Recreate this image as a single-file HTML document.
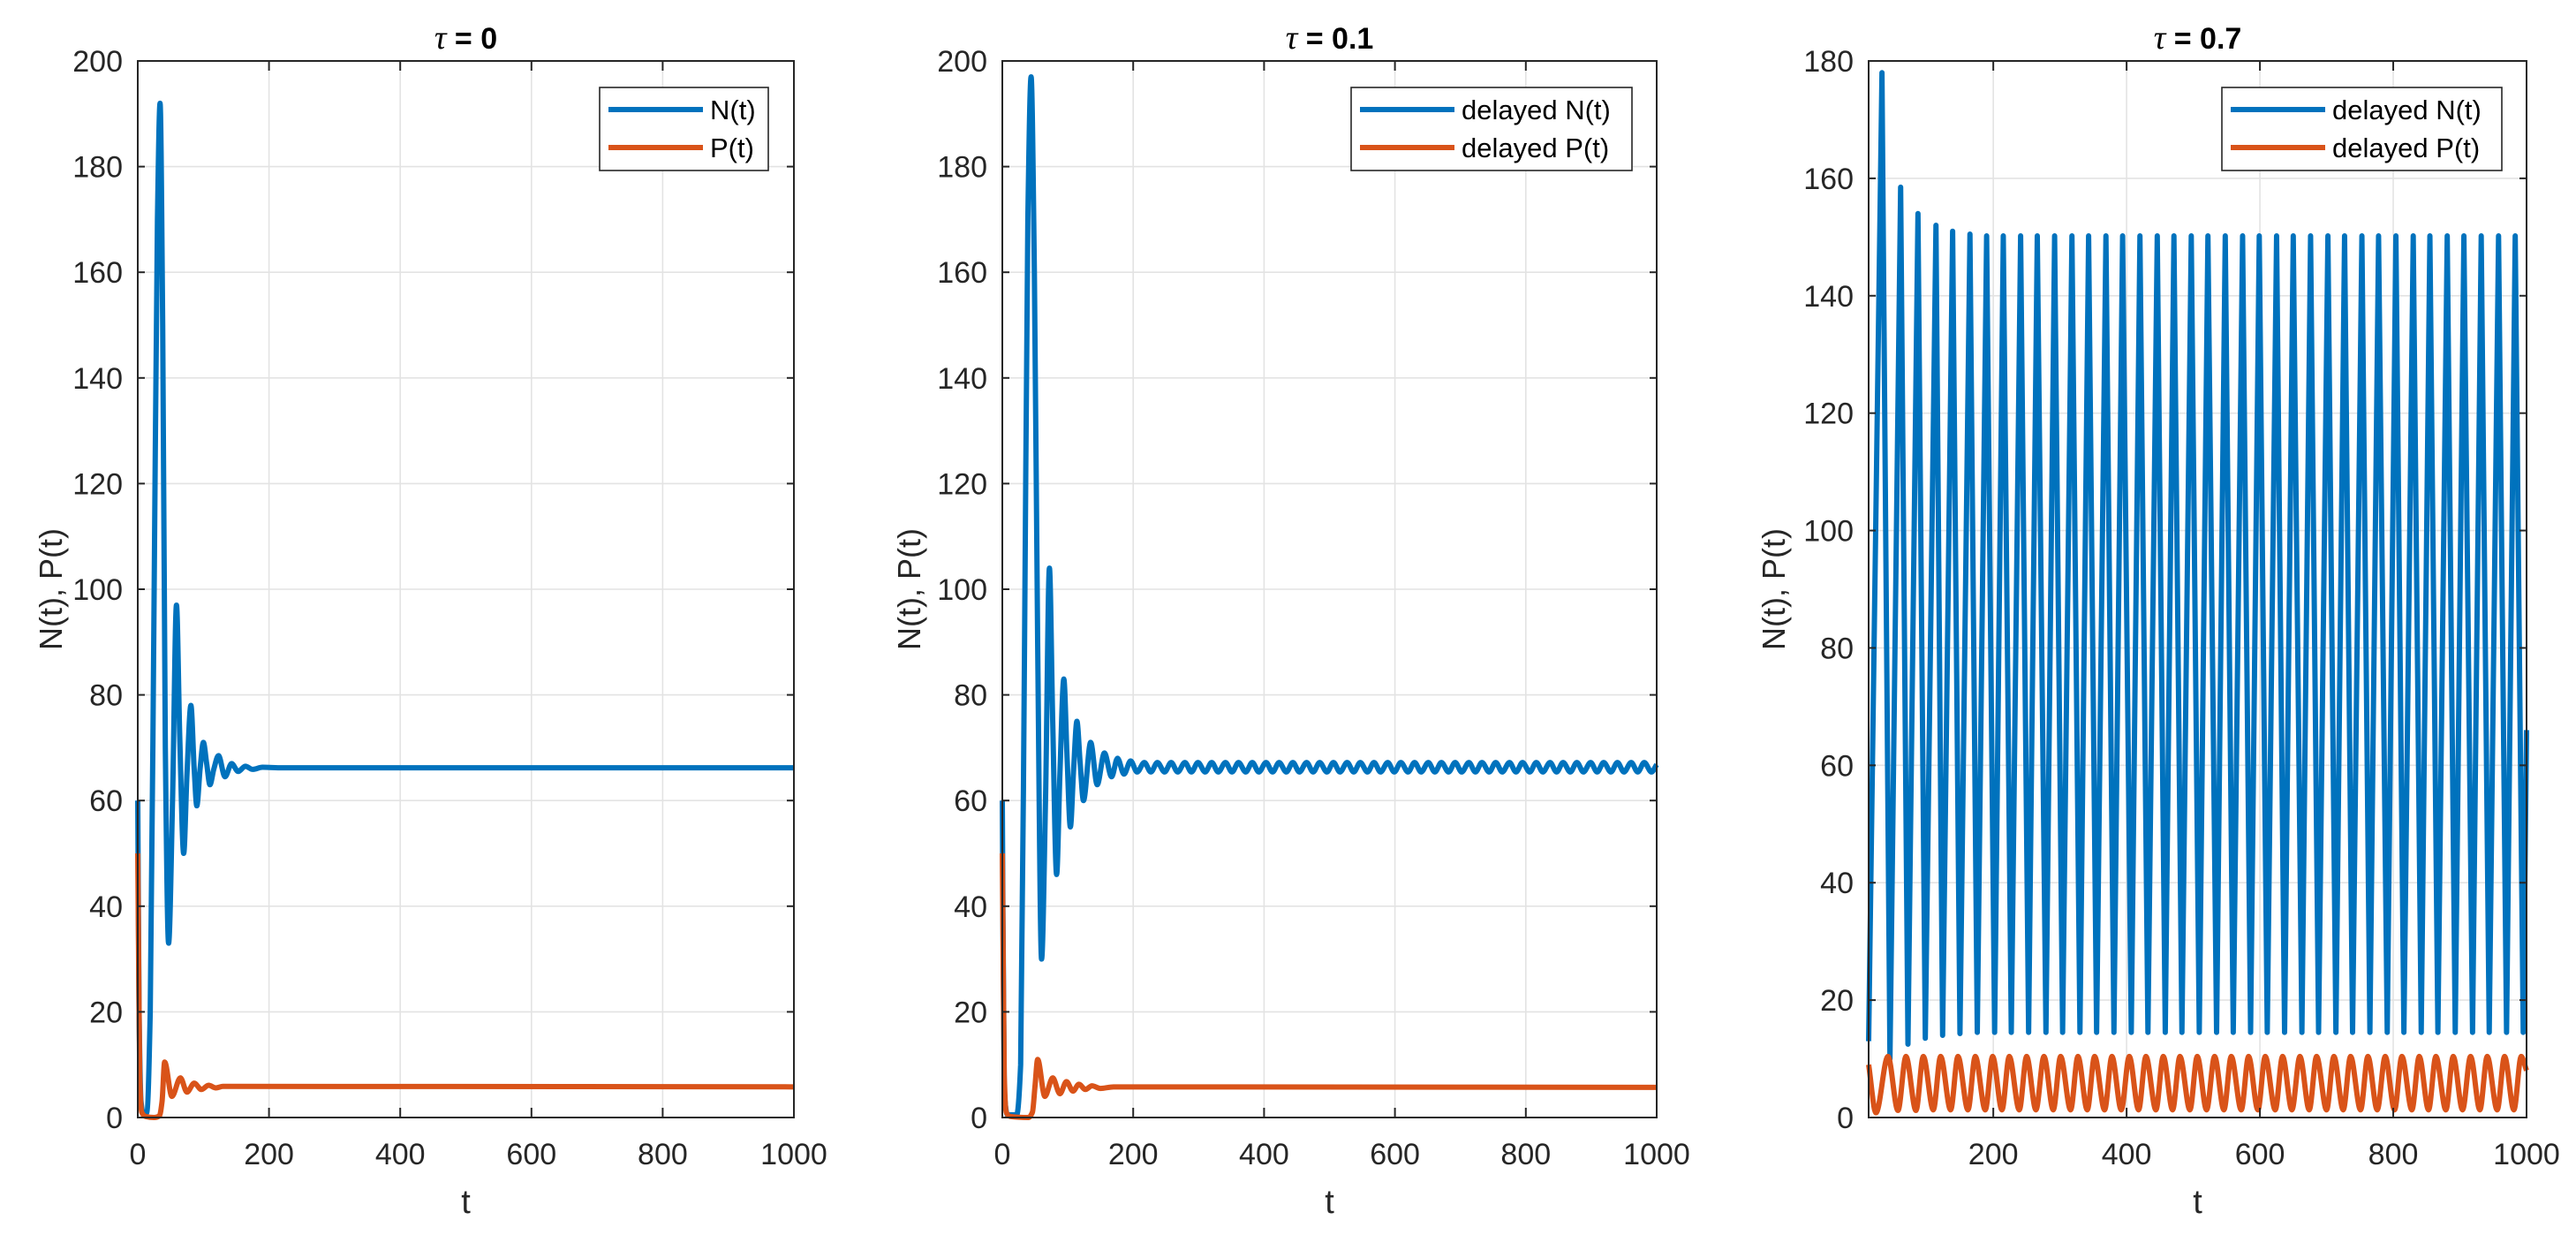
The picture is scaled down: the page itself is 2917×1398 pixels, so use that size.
<!DOCTYPE html>
<html><head><meta charset="utf-8"><style>
html,body{margin:0;padding:0;background:#fff;}
svg{display:block;font-family:"Liberation Sans",Arial,sans-serif;}
</style></head><body>
<svg id="fig" width="2917" height="1398" viewBox="0 0 2917 1398" xmlns="http://www.w3.org/2000/svg"></svg>
<script>
// ---------- data ----------
const xTicks = [0, 200, 400, 600, 800, 1000];
const xTicks3 = [200, 400, 600, 800, 1000];
const yTicks12 = [0, 20, 40, 60, 80, 100, 120, 140, 160, 180, 200];
const yTicks3 = [0, 20, 40, 60, 80, 100, 120, 140, 160, 180];
const titles = ["0", "0.1", "0.7"];
const legend1 = ["N(t)", "P(t)"];
const legend23 = ["delayed N(t)", "delayed P(t)"];

// Panel 1 (tau = 0)
const tN1 = [0,2,5,9,14,19,25,30,34,38,42,47,53,59,64,70,75,81,86,90,95,100,105,110,116,123,133,143,153,164,175,190,220,1000];
const vN1 = [60,20,3,0.5,1,20,100,170,192,150,70,33,60,97,72,50,65,78,66,59,66,71,67,63,66,68.5,64.5,67,65.5,66.5,65.9,66.3,66.2,66.2];
const tP1 = [0,1,3,6,12,25,33,37,41,52,65,75,86,97,108,119,130,1000];
const vP1 = [50,35,8,1,0.2,0,0.3,3,10.5,4,7.5,4.8,6.5,5.3,6.1,5.6,5.9,5.8];

// Panel 2 (tau = 0.1)
const tN2 = [0,3,8,22,28,34,39,44,49,54,60,66,72,77,83,88,94,99,104,109,114,119,124,135,145,156,167,176,186,196,
 206,217,227,237,248,258,268,279,289,299,310,320,330,341,351,361,372,382,392,403,413,423,434,444,454,465,475,485,496,506,516,527,537,547,558,568,578,589,599,609,620,630,640,651,661,671,682,692,702,713,723,733,744,754,764,775,785,795,806,816,826,837,847,857,868,878,888,899,909,919,930,940,950,961,971,981,992,1000];
const vN2 = [60,5,0.5,0.5,10,90,170,197,160,90,30,60,104,75,46,65,83,68,55,66,75,67,60,71,63,69,64.5,68,65,67.5,
 65.4,67.2,65.4,67.2,65.4,67.2,65.4,67.2,65.4,67.2,65.4,67.2,65.4,67.2,65.4,67.2,65.4,67.2,65.4,67.2,65.4,67.2,65.4,67.2,65.4,67.2,65.4,67.2,65.4,67.2,65.4,67.2,65.4,67.2,65.4,67.2,65.4,67.2,65.4,67.2,65.4,67.2,65.4,67.2,65.4,67.2,65.4,67.2,65.4,67.2,65.4,67.2,65.4,67.2,65.4,67.2,65.4,67.2,65.4,67.2,65.4,67.2,65.4,67.2,65.4,67.2,65.4,67.2,65.4,67.2,65.4,67.2,65.4,67.2,65.4,67.2,65.4,66.8];
const tP2 = [0,1,3,6,12,40,46,50,54,65,77,88,98,108,117,127,137,150,170,1000];
const vP2 = [50,35,8,1,0.2,0,1,6,11,4,7.5,4.5,6.8,5,6.3,5.3,6,5.5,5.8,5.7];

// Panel 3 (tau = 0.7)
const tN3 = [13,33,45,61,72,87,98,114,124,139,150,165,176,
 190,202,215,227,241,253,266,279,
 292,304,318,330,343,355,369,381,
 394,407,420,432,446,458,471,483,
 497,509,522,535,548,560,574,586,
 599,611,625,637,650,663,676,688,
 702,714,727,739,753,765,778,791,
 804,816,830,842,855,867,881,893,
 906,919,932,944,958,970,983,995,
 1000];
const vN3 = [13,178,10,158.5,12.5,154,13.5,152,14,151,14.3,150.5,14.5,
 150.2,14.5,150.2,14.5,150.2,14.5,150.2,14.5,
 150.2,14.5,150.2,14.5,150.2,14.5,150.2,14.5,
 150.2,14.5,150.2,14.5,150.2,14.5,150.2,14.5,
 150.2,14.5,150.2,14.5,150.2,14.5,150.2,14.5,
 150.2,14.5,150.2,14.5,150.2,14.5,150.2,14.5,
 150.2,14.5,150.2,14.5,150.2,14.5,150.2,14.5,
 150.2,14.5,150.2,14.5,150.2,14.5,150.2,14.5,
 150.2,14.5,150.2,14.5,150.2,14.5,150.2,14.5,
 66];
const tP3 = [13,24,42,57,69,84,95,110,121,136,147,162,173,
 188,199,213,224,239,250,264,276,
 290,301,316,327,341,352,367,378,
 392,404,418,429,444,455,469,480,
 495,506,520,532,546,557,572,583,
 597,608,623,634,648,660,674,685,
 700,711,725,736,751,762,776,788,
 802,813,828,839,853,864,879,890,
 904,916,930,941,956,967,981,992,
 1000];
const vP3 = [9,0.8,10.4,1.2,10.4,1.2,10.4,1.3,10.4,1.3,10.4,1.3,10.4,
 1.3,10.4,1.3,10.4,1.3,10.4,1.3,10.4,
 1.3,10.4,1.3,10.4,1.3,10.4,1.3,10.4,
 1.3,10.4,1.3,10.4,1.3,10.4,1.3,10.4,
 1.3,10.4,1.3,10.4,1.3,10.4,1.3,10.4,
 1.3,10.4,1.3,10.4,1.3,10.4,1.3,10.4,
 1.3,10.4,1.3,10.4,1.3,10.4,1.3,10.4,
 1.3,10.4,1.3,10.4,1.3,10.4,1.3,10.4,
 1.3,10.4,1.3,10.4,1.3,10.4,1.3,10.4,
 8];

// ---------- rendering ----------
const NS = "http://www.w3.org/2000/svg";
const svg = document.getElementById("fig");
const BLUE = "#0072BD", ORANGE = "#D95319";
function mk(tag, attrs, parent) {
  const e = document.createElementNS(NS, tag);
  for (const k in attrs) e.setAttribute(k, attrs[k]);
  (parent || svg).appendChild(e);
  return e;
}
function monoPath(xs, ys) {
  const n = Math.min(xs.length, ys.length);
  if (n < 2) return "";
  const d = [], m = new Array(n);
  for (let i = 0; i < n - 1; i++) d.push((ys[i+1]-ys[i])/(xs[i+1]-xs[i]));
  m[0] = d[0]; m[n-1] = d[n-2];
  for (let i = 1; i < n - 1; i++) {
    if (d[i-1]*d[i] <= 0) m[i] = 0;
    else { const w1 = 2*(xs[i+1]-xs[i])+(xs[i]-xs[i-1]), w2=(xs[i+1]-xs[i])+2*(xs[i]-xs[i-1]);
      m[i] = (w1+w2)/(w1/d[i-1]+w2/d[i]); }
  }
  let p = "M" + xs[0].toFixed(2) + "," + ys[0].toFixed(2);
  for (let i = 0; i < n - 1; i++) {
    const h = xs[i+1]-xs[i];
    p += " C" + (xs[i]+h/3).toFixed(2) + "," + (ys[i]+m[i]*h/3).toFixed(2) + " " +
      (xs[i+1]-h/3).toFixed(2) + "," + (ys[i+1]-m[i+1]*h/3).toFixed(2) + " " +
      xs[i+1].toFixed(2) + "," + ys[i+1].toFixed(2);
  }
  return p;
}
function linPath(xs, ys) {
  const n = Math.min(xs.length, ys.length);
  let p = "";
  for (let i = 0; i < n; i++) p += (i ? " L" : "M") + xs[i].toFixed(2) + "," + ys[i].toFixed(2);
  return p;
}

const panels = [
  {id: 1, L: 156, R: 899, x0: 0, x1: 1000, y1: 200, yt: yTicks12, xt: xTicks, title: titles[0], leg: legend1,
   legBox: [679, 99, 191, 94], N: [tN1, vN1, false], P: [tP1, vP1], ylabX: 58},
  {id: 2, L: 1135, R: 1876, x0: 0, x1: 1000, y1: 200, yt: yTicks12, xt: xTicks, title: titles[1], leg: legend23,
   legBox: [1530, 99, 318, 94], N: [tN2, vN2, false], P: [tP2, vP2], ylabX: 1030},
  {id: 3, L: 2116, R: 2861, x0: 13, x1: 1000, y1: 180, yt: yTicks3, xt: xTicks3, title: titles[2], leg: legend23,
   legBox: [2516, 99, 317, 94], N: [tN3, vN3, true], P: [tP3, vP3], ylabX: 2009}
];
const TOP = 69, BOT = 1265;

panels.forEach(p => {
  const g = mk("g", {});
  
  
  const sx = t => p.L + (t - p.x0) / (p.x1 - p.x0) * (p.R - p.L);
  const sy = v => BOT - v / p.y1 * (BOT - TOP);
  mk("rect", {x: p.L, y: TOP, width: p.R - p.L, height: BOT - TOP, fill: "#fff"}, g);
  p.xt.forEach(t => {
    const l = mk("line", {x1: sx(t), x2: sx(t), y1: TOP, y2: BOT, stroke: "#e3e3e3", "stroke-width": 1.6}, g);
    
    
  });
  p.yt.forEach(v => {
    const l = mk("line", {x1: p.L, x2: p.R, y1: sy(v), y2: sy(v), stroke: "#e3e3e3", "stroke-width": 1.6}, g);
    
    
  });
  const cp = mk("clipPath", {id: "clip" + p.id}, g);
  mk("rect", {x: p.L - 4, y: TOP - 4, width: p.R - p.L + 8, height: BOT - TOP + 8}, cp);
  const nx = p.N[0].map(sx), ny = p.N[1].map(sy);
  const nPath = mk("path", {d: p.N[2] ? linPath(nx, ny) : monoPath(nx, ny), fill: "none", stroke: BLUE,
    "stroke-width": 6, "stroke-linejoin": "round", "clip-path": "url(#clip" + p.id + ")"}, g);
  
  
  const px = p.P[0].map(sx), py = p.P[1].map(sy);
  const pPath = mk("path", {d: monoPath(px, py), fill: "none", stroke: ORANGE,
    "stroke-width": 6, "stroke-linejoin": "round", "clip-path": "url(#clip" + p.id + ")"}, g);
  
  
  const box = mk("rect", {x: p.L, y: TOP, width: p.R - p.L, height: BOT - TOP, fill: "none", stroke: "#262626", "stroke-width": 2}, g);
  
  
  p.xt.forEach(t => {
    mk("line", {x1: sx(t), x2: sx(t), y1: BOT, y2: BOT - 11, stroke: "#262626", "stroke-width": 2}, g);
    mk("line", {x1: sx(t), x2: sx(t), y1: TOP, y2: TOP + 11, stroke: "#262626", "stroke-width": 2}, g);
    const tx = mk("text", {x: sx(t), y: 1318, "font-size": 34, "text-anchor": "middle", fill: "#262626"}, g);
    tx.textContent = t;
    
    
  });
  p.yt.forEach(v => {
    mk("line", {x1: p.L, x2: p.L + 8, y1: sy(v), y2: sy(v), stroke: "#262626", "stroke-width": 2}, g);
    mk("line", {x1: p.R, x2: p.R - 8, y1: sy(v), y2: sy(v), stroke: "#262626", "stroke-width": 2}, g);
    const tx = mk("text", {x: p.L - 17, y: sy(v) + 12, "font-size": 34, "text-anchor": "end", fill: "#262626"}, g);
    tx.textContent = v;
    
    
  });
  const xl = mk("text", {x: (p.L + p.R) / 2, y: 1373, "font-size": 38, "text-anchor": "middle", fill: "#262626"}, g);
  xl.textContent = "t";
  
  
  const yl = mk("text", {x: 0, y: 0, "font-size": 36, "text-anchor": "middle", fill: "#262626",
    transform: "translate(" + (p.ylabX + 12) + "," + ((TOP + BOT) / 2) + ") rotate(-90)"}, g);
  yl.textContent = "N(t), P(t)";
  
  
  const tt = mk("text", {x: (p.L + p.R) / 2, y: 55, "font-size": 34, "font-weight": "bold", "text-anchor": "middle", fill: "#000"}, g);
  const tau = mk("tspan", {"font-family": "'Liberation Serif',serif", "font-style": "italic", "font-weight": "normal", "font-size": 38}, tt);
  tau.textContent = "τ";
  const rest = mk("tspan", {}, tt);
  rest.textContent = " = " + p.title;
  
  
  const lg = mk("g", {}, g);
  
  
  const [bx, by, bw, bh] = p.legBox;
  mk("rect", {x: bx, y: by, width: bw, height: bh, fill: "#fff", stroke: "#262626", "stroke-width": 1.6}, lg);
  [BLUE, ORANGE].forEach((c, i) => {
    const ey = by + 25 + i * 43;
    const e = mk("g", {}, lg);
    
    
    mk("line", {x1: bx + 10, x2: bx + 117, y1: ey, y2: ey, stroke: c, "stroke-width": 6}, e);
    const lt = mk("text", {x: bx + 125, y: ey + 11, "font-size": 31, fill: "#000"}, e);
    lt.textContent = p.leg[i];
  });
});
</script>
</body></html>
